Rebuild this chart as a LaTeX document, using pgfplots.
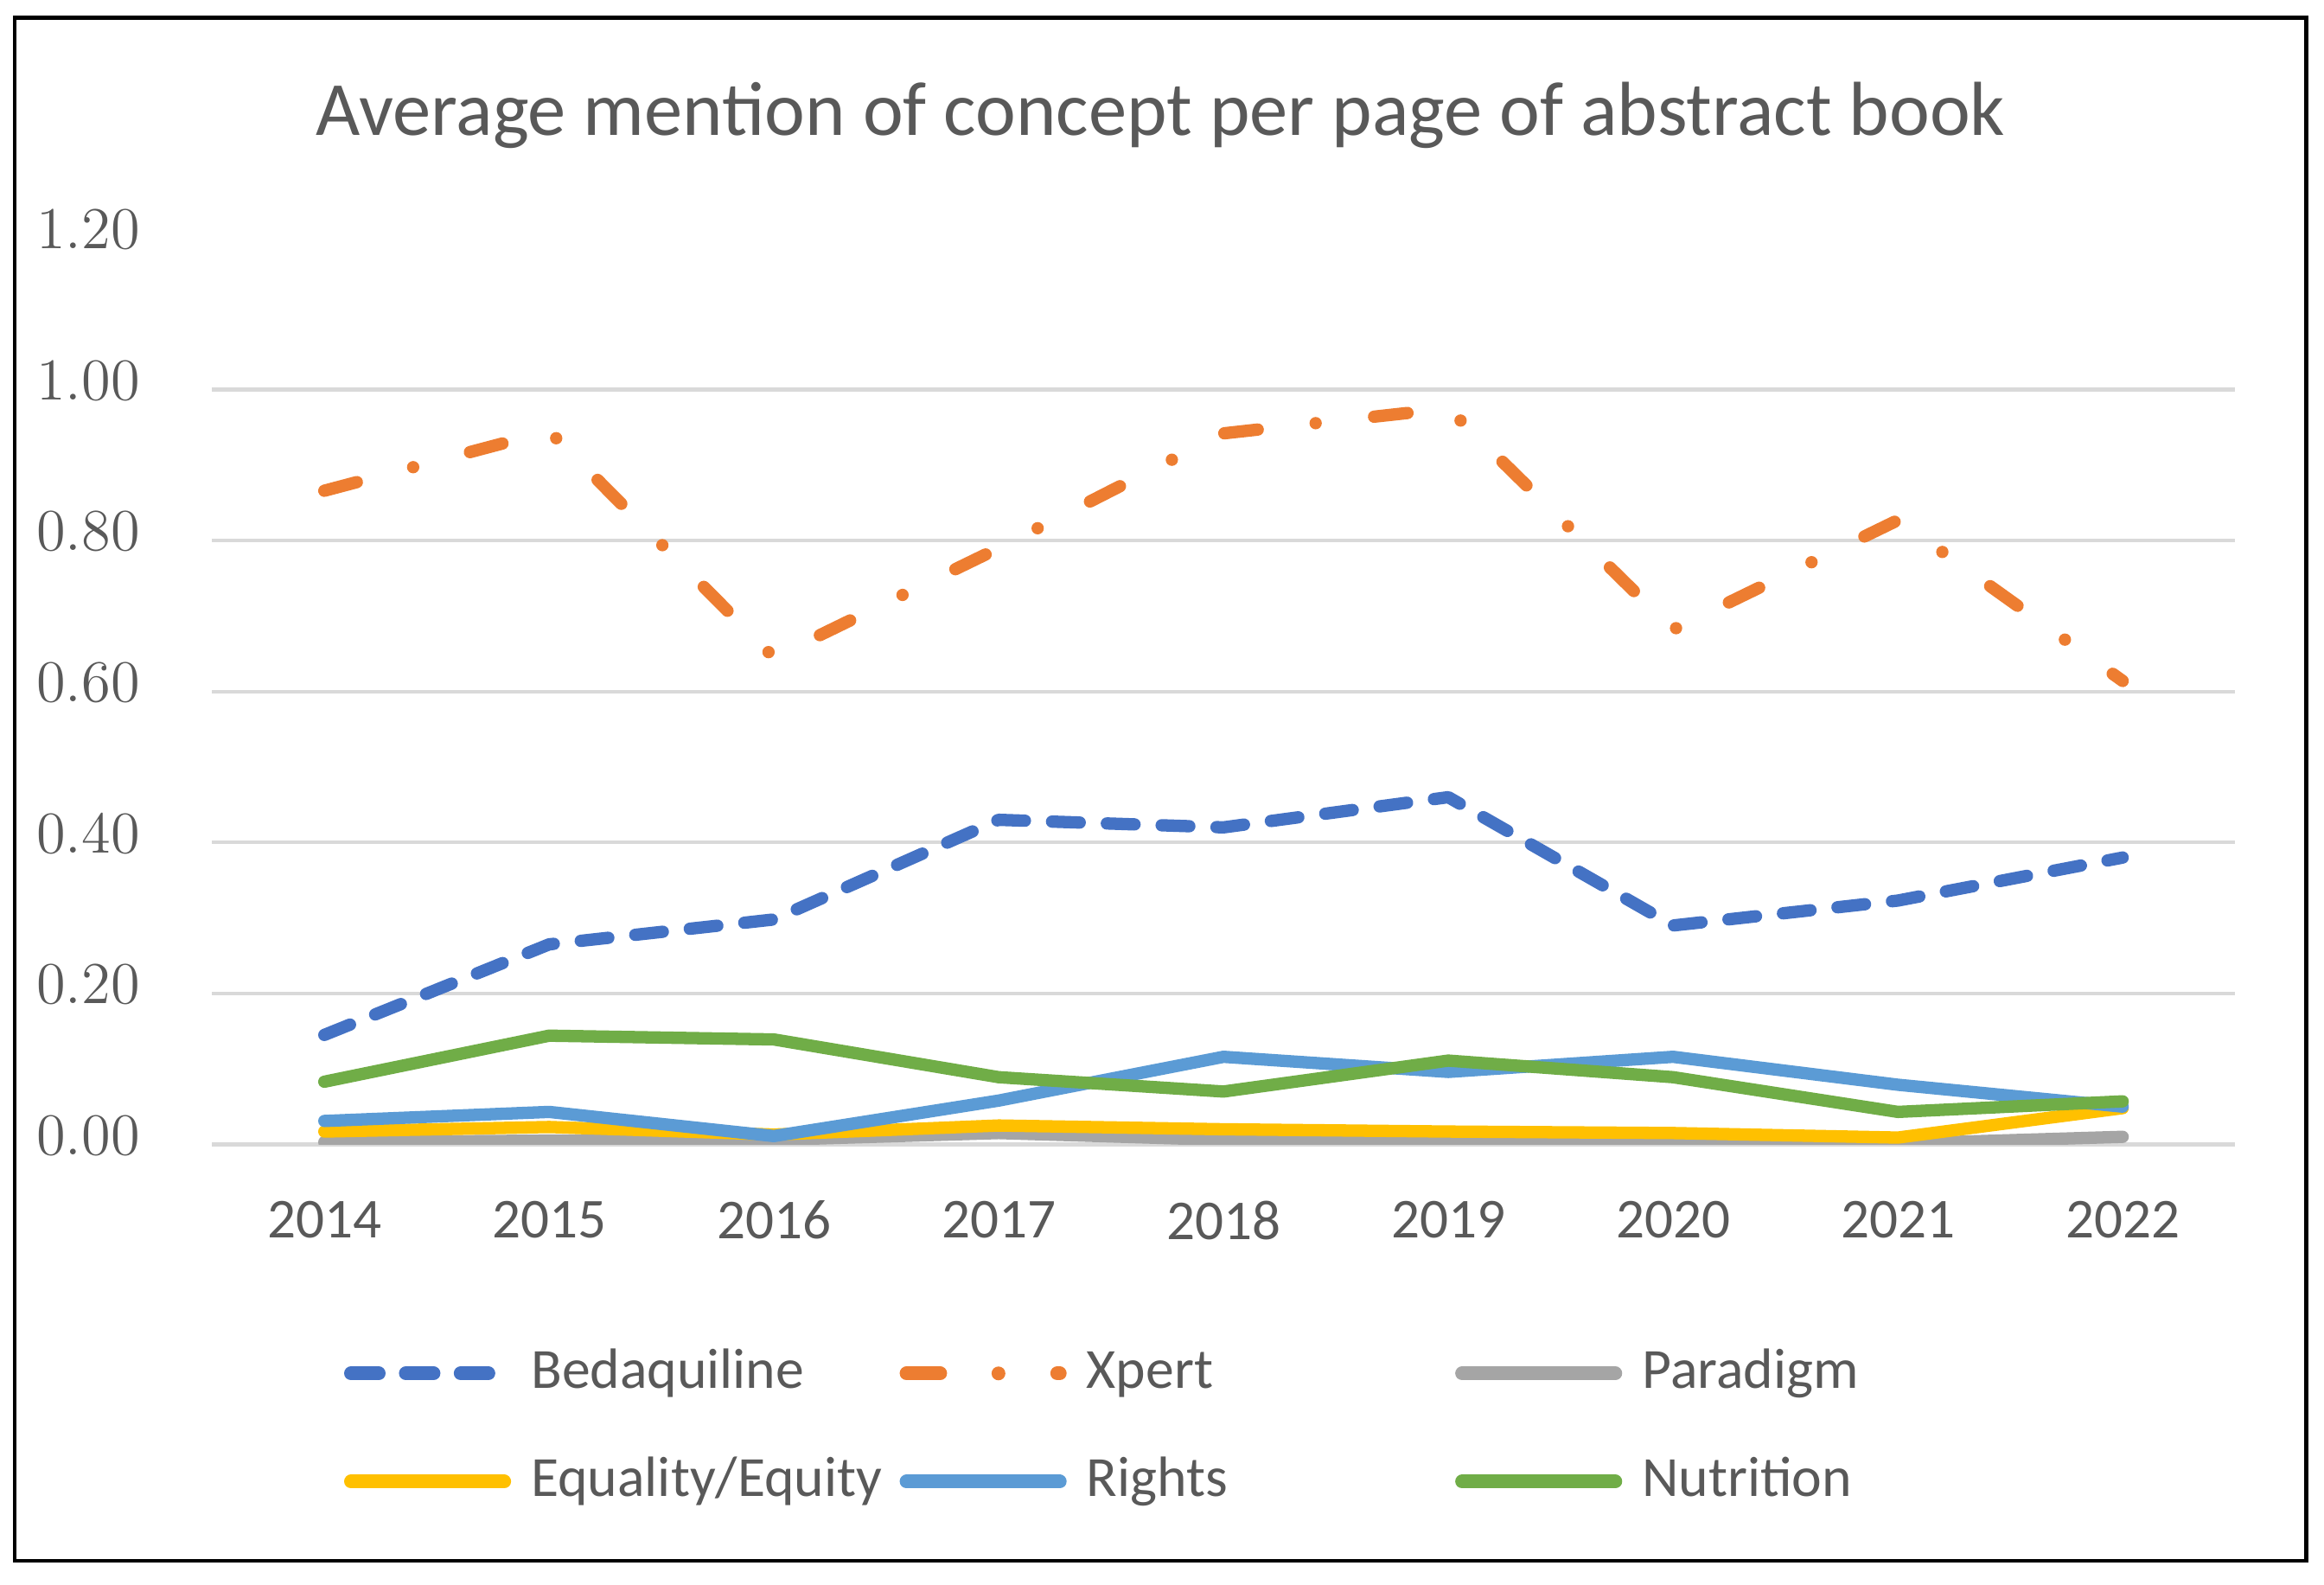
\documentclass[border=0pt]{standalone}
\usepackage{pgfplots}
\pgfplotsset{compat=1.18}
\usepackage{fontspec}
\setmainfont{Carlito}
\definecolor{txt}{HTML}{595959}
\definecolor{gridc}{HTML}{D9D9D9}
\definecolor{cBed}{HTML}{4472C4}
\definecolor{cXp}{HTML}{ED7D31}
\definecolor{cPar}{HTML}{A5A5A5}
\definecolor{cEq}{HTML}{FFC000}
\definecolor{cRi}{HTML}{5B9BD5}
\definecolor{cNu}{HTML}{70AD47}

\begin{document}
\begin{tikzpicture}
\useasboundingbox (-42.9pt,-89.1pt) rectangle (427.5pt,231.6pt);
\begin{axis}[
    width=409.5pt, height=183.3pt, scale only axis,
    xmin=2013.5, xmax=2022.5, ymin=0, ymax=1.2,
    xtick={2014,2015,2016,2017,2018,2019,2020,2021,2022},
    xticklabels={2014,2015,2016,2017,2018,2019,2020,2021,2022},
    ytick={0,0.2,0.4,0.6,0.8,1.0},
    extra y ticks={1.2}, extra y tick style={grid=none},
    ymajorgrids, major grid style={draw=gridc, line width=0.75pt},
    axis line style={draw=none}, major tick length=0pt,
    y tick label style={/pgf/number format/fixed, /pgf/number format/fixed zerofill,
        /pgf/number format/precision=2,
        font=\fontsize{11.7}{12}\selectfont, text=txt, anchor=east, inner sep=0pt, xshift=-14.4pt, yshift=1.8pt},
    x tick label style={font=\fontsize{11.4}{12}\selectfont, text=txt, anchor=north, inner sep=0pt, yshift=-11.25pt},
    every axis plot/.append style={line width=2.5pt, line cap=round, line join=round},
    legend columns=3,
    legend cell align=left,
    legend image code/.code={\draw[line width=2.8pt] (0pt,0pt) -- (31pt,0pt);},
    legend style={
        at={(axis description cs:0,0)}, anchor=north west,
        xshift=26.75pt, yshift=-40.85pt,
        draw=none, fill=none, inner sep=0pt, outer sep=0pt,
        column sep=0pt, row sep=10.9pt,
        nodes={inner sep=0pt, outer sep=0pt, text height=8.5pt, text depth=2.5pt},
        font=\fontsize{11.5}{12}\selectfont, text=txt,
        /tikz/every odd column/.append style={column sep=4.05pt},
    },
]
\addplot[cBed, dash pattern=on 5.6pt off 5.5pt] coordinates {
    (2014,0.145) (2015,0.265) (2016,0.298) (2017,0.430) (2018,0.420)
    (2019,0.460) (2020,0.290) (2021,0.323) (2022,0.380)};
\addlegendentry{\makebox[74.6pt][l]{Bedaquiline}}
\addplot[cXp, dash pattern=on 6.8pt off 11.8pt on 0pt off 11.9pt] coordinates {
    (2014,0.866) (2015,0.945) (2016,0.645) (2017,0.790) (2018,0.942)
    (2019,0.975) (2020,0.682) (2021,0.827) (2022,0.614)};
\addlegendentry{\makebox[74.6pt][l]{Xpert}}
\addplot[cPar] coordinates {
    (2014,0.003) (2015,0.005) (2016,0.006) (2017,0.015) (2018,0.006)
    (2019,0.003) (2020,0.005) (2021,0.001) (2022,0.010)};
\addlegendentry{\makebox[74.6pt][l]{Paradigm}}
\addplot[cEq] coordinates {
    (2014,0.017) (2015,0.023) (2016,0.013) (2017,0.025) (2018,0.020)
    (2019,0.017) (2020,0.015) (2021,0.009) (2022,0.048)};
\addlegendentry{\makebox[74.6pt][l]{Equality/Equity}}
\addplot[cRi] coordinates {
    (2014,0.031) (2015,0.043) (2016,0.011) (2017,0.058) (2018,0.116)
    (2019,0.096) (2020,0.116) (2021,0.079) (2022,0.050)};
\addlegendentry{\makebox[74.6pt][l]{Rights}}
\addplot[cNu] coordinates {
    (2014,0.083) (2015,0.144) (2016,0.139) (2017,0.089) (2018,0.070)
    (2019,0.111) (2020,0.089) (2021,0.043) (2022,0.057)};
\addlegendentry{\makebox[74.6pt][l]{Nutrition}}
\end{axis}
\node[font=\fontsize{15.5}{18}\selectfont, text=txt] at (192pt,208.2pt)
    {Average mention of concept per page of abstract book};
\draw[line width=0.8pt] (-39.9pt,-84.3pt) rectangle (423.9pt,228pt);
\end{tikzpicture}
\end{document}
